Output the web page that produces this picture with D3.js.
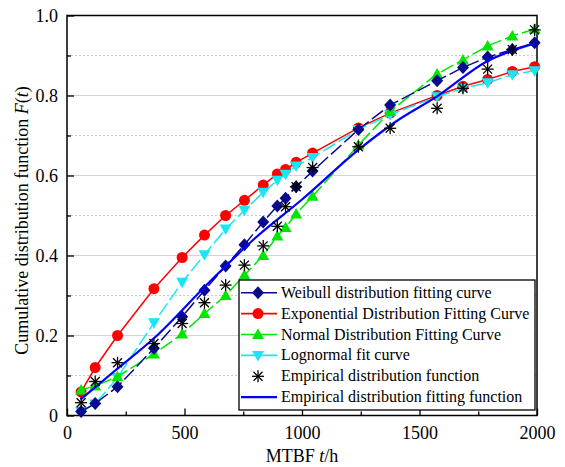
<!DOCTYPE html>
<html><head><meta charset="utf-8">
<script src="https://cdn.jsdelivr.net/npm/d3@7"></script>
<style>body{margin:0;background:#fff}svg{display:block}svg text{font-family:"Times New Roman","Liberation Serif","DejaVu Serif",serif}</style>
</head><body><svg id="c" width="565" height="467"></svg>
<script>
const tValues = [60,120,215,370,490,585,675,755,835,895,930,975,1045,1240,1375,1575,1685,1790,1895,1990];
const weibull = [0.01,0.03,0.072,0.168,0.247,0.313,0.374,0.427,0.484,0.524,0.543,0.572,0.611,0.715,0.776,0.837,0.87,0.896,0.915,0.932];
const exponential = [0.059,0.12,0.20,0.317,0.395,0.451,0.50,0.538,0.576,0.604,0.615,0.633,0.656,0.719,0.756,0.80,0.823,0.84,0.86,0.872];
const normal = [0.064,0.074,0.097,0.154,0.204,0.255,0.30,0.351,0.40,0.449,0.47,0.504,0.548,0.676,0.76,0.854,0.889,0.924,0.949,0.966];
const lognormal = [0.01,0.029,0.095,0.232,0.333,0.402,0.466,0.513,0.558,0.588,0.603,0.624,0.645,0.715,0.752,0.797,0.818,0.832,0.852,0.862];
const empirical = [0.032,0.085,0.132,0.18,0.23,0.282,0.326,0.376,0.424,0.473,0.522,0.572,0.62,0.672,0.718,0.768,0.818,0.866,0.915,0.964];
const fitT = [58,200,370,600,800,1000,1240,1400,1573,1786,1991];
const fitF = [0.04,0.11,0.193,0.33,0.443,0.54,0.664,0.735,0.797,0.885,0.93];
const xTicks = [0,500,1000,1500,2000];
const yTicks = [0,0.2,0.4,0.6,0.8,1.0];
const yTickLabels = ["0","0.2","0.4","0.6","0.8","1.0"];
const legendLabels = ["Weibull distribution fitting curve","Exponential Distribution Fitting Curve","Normal Distribution Fitting Curve","Lognormal fit curve","Empirical distribution function","Empirical distribution fitting function"];

const svg = d3.select("#c");
const L=67,R=537,T=15.5,B=415.5;
const x = d3.scaleLinear().domain([0,2000]).range([L,R]);
const y = d3.scaleLinear().domain([0,1]).range([B,T]);

// grid
const minorY = d3.range(0.1,1.0,0.2);
svg.append("g").selectAll("line").data([0.2,0.4,0.6,0.8]).join("line")
  .attr("x1",L).attr("x2",R).attr("y1",d=>y(d)).attr("y2",d=>y(d))
  .attr("stroke","#d4d4d4").attr("stroke-width",1.2);
svg.append("g").selectAll("line").data(minorY).join("line")
  .attr("x1",L).attr("x2",R).attr("y1",d=>y(d)).attr("y2",d=>y(d))
  .attr("stroke","#c8c8c8").attr("stroke-width",1).attr("stroke-dasharray","2,2");

// axes
const xAxis = svg.append("g").attr("transform",`translate(0,${B})`)
  .call(d3.axisBottom(x).tickValues(xTicks).tickSize(-7).tickPadding(11).tickFormat(d3.format("d")));
const xMinor = svg.append("g").attr("transform",`translate(0,${B})`)
  .call(d3.axisBottom(x).tickValues([250,750,1250,1750]).tickSize(-4).tickFormat(""));
const yAxis = svg.append("g").attr("transform",`translate(${L},0)`)
  .call(d3.axisLeft(y).tickValues(yTicks).tickSize(-7).tickPadding(9).tickFormat((d,i)=>yTickLabels[i]));
const yMinor = svg.append("g").attr("transform",`translate(${L},0)`)
  .call(d3.axisLeft(y).tickValues(minorY).tickSize(-4).tickFormat(""));
[xAxis,xMinor,yAxis,yMinor].forEach(g=>{
  g.attr("font-family",null).attr("font-size",null);
  g.select(".domain").remove();
  g.selectAll("line").attr("stroke","#000").attr("stroke-width",1.3);
  g.selectAll("text").attr("font-size",18).attr("fill","#000");
});
svg.append("rect").attr("x",L).attr("y",T).attr("width",R-L).attr("height",B-T)
  .attr("fill","none").attr("stroke","#000").attr("stroke-width",1.5);

// series
const series = [
  {v:exponential,color:"#ff0000",dash:null,sym:"circle"},
  {v:lognormal,color:"#19e6f5",dash:"14,4",sym:"down"},
  {v:normal,color:"#00e600",dash:"14,4",sym:"up"},
  {v:weibull,color:"#0a0a8c",dash:"14,4",sym:"diamond"},
];
const line = d3.line().x((d,i)=>x(tValues[i])).y(d=>y(d));
function symPath(sym){
  if(sym==="circle") return d3.symbol(d3.symbolCircle,95)();
  if(sym==="diamond") return "M0,-6.5L6,0L0,6.5L-6,0Z";
  if(sym==="up") return "M0,-6L6,4.5L-6,4.5Z";
  if(sym==="down") return "M0,6L6,-4.5L-6,-4.5Z";
}
function drawSym(g,sym,color,cx,cy){
  if(sym==="star"){
    const s=6;
    const gg=g.append("g").attr("transform",`translate(${cx},${cy})`).attr("stroke","#000").attr("stroke-width",1.3);
    [[0,-s,0,s],[-s,0,s,0],[-s*0.75,-s*0.75,s*0.75,s*0.75],[-s*0.75,s*0.75,s*0.75,-s*0.75]].forEach(a=>
      gg.append("line").attr("x1",a[0]).attr("y1",a[1]).attr("x2",a[2]).attr("y2",a[3]));
    return;
  }
  g.append("path").attr("d",symPath(sym)).attr("transform",`translate(${cx},${cy})`).attr("fill",color);
}
series.forEach(s=>{
  const g=svg.append("g");
  g.append("path").datum(s.v).attr("d",line).attr("fill","none").attr("stroke",s.color)
    .attr("stroke-width",1.5).attr("stroke-dasharray",s.dash);
  s.v.forEach((d,i)=>drawSym(g,s.sym,s.color,x(tValues[i]),y(d)));
});
// fit curve
svg.append("path").datum(fitF).attr("d",d3.line().x((d,i)=>x(fitT[i])).y(d=>y(d)).curve(d3.curveMonotoneX))
  .attr("fill","none").attr("stroke","#0000ff").attr("stroke-width",2.2);
// empirical
const eg=svg.append("g");
empirical.forEach((d,i)=>drawSym(eg,"star","#000",x(tValues[i]),y(d)));

// legend
const lg=svg.append("g");
lg.append("rect").attr("x",239).attr("y",280).attr("width",296).attr("height",130).attr("fill","#fff").attr("stroke","#000").attr("stroke-width",1.3);
const legItems=[
  {color:"#0a0a8c",sym:"diamond",line:true},
  {color:"#ff0000",sym:"circle",line:true},
  {color:"#00e600",sym:"up",line:true},
  {color:"#19e6f5",sym:"down",line:true},
  {color:"#000",sym:"star",line:false},
  {color:"#0000ff",sym:null,line:true,w:2.2},
];
legItems.forEach((it,i)=>{
  const cy=292.7+i*20.9;
  if(it.line) lg.append("line").attr("x1",241).attr("x2",277).attr("y1",cy).attr("y2",cy).attr("stroke",it.color).attr("stroke-width",it.w||1.6);
  if(it.sym) drawSym(lg,it.sym,it.color,258,cy);
  lg.append("text").attr("x",281).attr("y",cy+5).attr("font-size",16).text(legendLabels[i]);
});

// axis titles
const xt=svg.append("text").attr("x",(L+R)/2).attr("y",462).attr("text-anchor","middle").attr("font-size",18);
xt.append("tspan").text("MTBF ");xt.append("tspan").attr("font-style","italic").text("t");xt.append("tspan").text("/h");
const yt=svg.append("text").attr("transform",`translate(28,${(T+B)/2+5}) rotate(-90)`).attr("text-anchor","middle").attr("font-size",18);
yt.append("tspan").text("Cumulative distribution function ");yt.append("tspan").attr("font-style","italic").text("F");
yt.append("tspan").text("(");yt.append("tspan").attr("font-style","italic").text("t");yt.append("tspan").text(")");
</script></body></html>
